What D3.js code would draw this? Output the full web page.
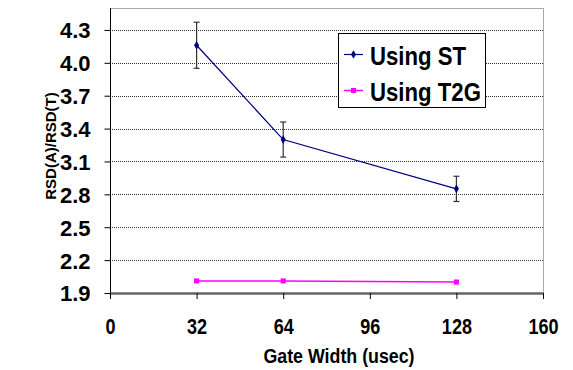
<!DOCTYPE html>
<html>
<head>
<meta charset="utf-8">
<script src="https://cdn.jsdelivr.net/npm/d3@7"></script>
<style>
  html, body { margin: 0; padding: 0; background: #fff; }
  svg { display: block; font-family: "Liberation Sans", Arial, sans-serif; }
</style>
</head>
<body>
<svg id="chart" width="573" height="370"></svg>
<script>
// ---- data ----
const gateWidths = [32, 64, 128];
const stValues   = [4.16, 3.30, 2.85];
const stErrors   = [0.21, 0.16, 0.115];
const t2gValues  = [2.01, 2.01, 2.00];
const xTickValues = [0, 32, 64, 96, 128, 160];
const yTickValues = [1.9, 2.2, 2.5, 2.8, 3.1, 3.4, 3.7, 4.0, 4.3];
const seriesNames = ["Using ST", "Using T2G"];
const seriesColors = ["#000080", "#FF00FF"];

// ---- layout ----
const svg = d3.select("#chart");
const plot = { left: 110, right: 543, top: 8, bottom: 293 };

const x = d3.scaleLinear().domain([0, 160]).range([plot.left, plot.right]);
const y = d3.scaleLinear().domain([1.9, 4.5]).range([plot.bottom, plot.top]);

// gridlines
svg.append("g").selectAll("line")
  .data(yTickValues.filter(v => v > 1.9))
  .join("line")
  .attr("x1", plot.left).attr("x2", plot.right)
  .attr("y1", d => Math.round(y(d)) + 0.5).attr("y2", d => Math.round(y(d)) + 0.5)
  .attr("stroke", "#333").attr("stroke-width", 1)
  .attr("stroke-dasharray", "1,1");

// frame top & right
svg.append("line").attr("x1", plot.left).attr("x2", plot.right)
  .attr("y1", plot.top + 0.5).attr("y2", plot.top + 0.5)
  .attr("stroke", "#aaa").attr("stroke-width", 1);
svg.append("line").attr("x1", plot.right + 0.5).attr("x2", plot.right + 0.5)
  .attr("y1", plot.top).attr("y2", plot.bottom)
  .attr("stroke", "#aaa").attr("stroke-width", 1);

// y axis
const yAxis = svg.append("g")
  .attr("transform", `translate(${plot.left + 0.5},0)`)
  .call(d3.axisLeft(y).tickValues(yTickValues).tickFormat(d3.format(".1f")).tickSize(6).tickSizeOuter(0));
yAxis.select(".domain").attr("stroke", "#000").attr("d", `M0,${plot.top}V${plot.bottom}`);
yAxis.selectAll(".tick line").attr("stroke", "#000");
yAxis.selectAll(".tick text")
  .attr("x", -20).attr("dy", "0.36em")
  .attr("font-size", 22).attr("font-weight", "bold").attr("fill", "#000")
  .attr("font-family", "'Liberation Sans', Arial, sans-serif");

// x axis
const xAxis = svg.append("g")
  .attr("transform", `translate(0,${plot.bottom})`)
  .call(d3.axisBottom(x).tickValues(xTickValues).tickFormat(d3.format("d")).tickSize(6).tickSizeOuter(0));
xAxis.select(".domain").attr("stroke", "#666").attr("stroke-width", 2.5);
xAxis.selectAll(".tick line").attr("stroke", "#000");
xAxis.selectAll(".tick text")
  .attr("y", 0).attr("dy", 0)
  .attr("font-size", 22).attr("font-weight", "bold").attr("fill", "#000")
  .attr("font-family", "'Liberation Sans', Arial, sans-serif")
  .attr("transform", "translate(0,41) scale(0.82,1)");

// axis titles
svg.append("text")
  .attr("transform", `translate(339,362.5) scale(0.89,1)`)
  .attr("text-anchor", "middle")
  .attr("font-size", 20).attr("font-weight", "bold")
  .text("Gate Width (usec)");
svg.append("text")
  .attr("transform", "translate(55.5,146) rotate(-90)")
  .attr("text-anchor", "middle")
  .attr("font-size", 15).attr("font-weight", "bold")
  .text("RSD(A)/RSD(T)");

// series data
const stData = gateWidths.map((g, i) => ({ g, v: stValues[i], e: stErrors[i] }));
const t2gData = gateWidths.map((g, i) => ({ g, v: t2gValues[i] }));
const line = d3.line().x(d => x(d.g)).y(d => y(d.v));

// error bars (ST)
const eb = svg.append("g").attr("stroke", "#333").attr("stroke-width", 1.2);
eb.selectAll(".v").data(stData).join("line")
  .attr("x1", d => x(d.g)).attr("x2", d => x(d.g))
  .attr("y1", d => y(d.v + d.e)).attr("y2", d => y(d.v - d.e));
eb.selectAll(".t").data(stData).join("line")
  .attr("x1", d => x(d.g) - 3).attr("x2", d => x(d.g) + 3)
  .attr("y1", d => y(d.v + d.e)).attr("y2", d => y(d.v + d.e));
eb.selectAll(".b").data(stData).join("line")
  .attr("x1", d => x(d.g) - 3).attr("x2", d => x(d.g) + 3)
  .attr("y1", d => y(d.v - d.e)).attr("y2", d => y(d.v - d.e));

// lines
svg.append("path").datum(stData).attr("d", line)
  .attr("fill", "none").attr("stroke", seriesColors[0]).attr("stroke-width", 1.2);
svg.append("path").datum(t2gData).attr("d", line)
  .attr("fill", "none").attr("stroke", seriesColors[1]).attr("stroke-width", 1.5);

// markers
const diamond = d3.symbol().type(d3.symbolDiamond).size(22);
const square = d3.symbol().type(d3.symbolSquare).size(26);
svg.append("g").selectAll("path").data(stData).join("path")
  .attr("d", diamond).attr("transform", d => `translate(${x(d.g)},${y(d.v)})`)
  .attr("fill", seriesColors[0]);
svg.append("g").selectAll("path").data(t2gData).join("path")
  .attr("d", square).attr("transform", d => `translate(${x(d.g)},${y(d.v)})`)
  .attr("fill", seriesColors[1]);

// legend
const lg = svg.append("g");
lg.append("rect").attr("x", 338.5).attr("y", 33.5).attr("width", 147).attr("height", 74)
  .attr("fill", "#fff").attr("stroke", "#000").attr("stroke-width", 1);
const legendRows = [54.5, 90.5];
const symbols = [diamond, square];
seriesNames.forEach((name, i) => {
  const ly = legendRows[i];
  lg.append("line").attr("x1", 344).attr("x2", 363).attr("y1", ly).attr("y2", ly)
    .attr("stroke", seriesColors[i]).attr("stroke-width", i === 0 ? 1.2 : 1.5);
  lg.append("path").attr("d", symbols[i]).attr("transform", `translate(353.5,${ly})`)
    .attr("fill", seriesColors[i]);
  lg.append("text")
    .attr("transform", `translate(370,${ly + 10}) scale(0.87,1)`)
    .attr("font-size", 25.5).attr("font-weight", "bold")
    .text(name);
});
</script>
</body>
</html>
